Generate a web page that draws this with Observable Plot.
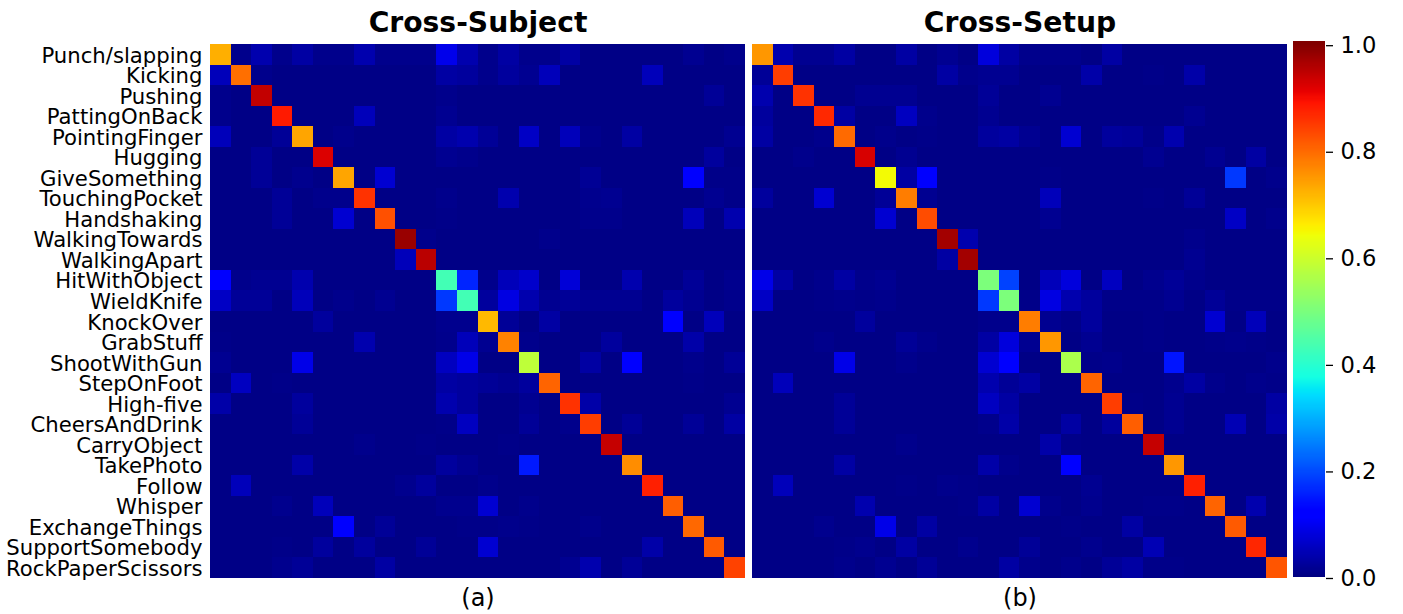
<!DOCTYPE html>
<html>
<head>
<meta charset="utf-8">
<style>
  html, body { margin: 0; padding: 0; background: #fff; }
  #page { position: relative; width: 1403px; height: 614px; overflow: hidden; }
  #page svg { position: absolute; top: 0; }
</style>
<script src="https://cdn.jsdelivr.net/npm/d3@7"></script>
<script src="https://cdn.jsdelivr.net/npm/@observablehq/plot@0.6"></script>
</head>
<body>
<div id="page"></div>
<script>
const actions = ["Punch/slapping","Kicking","Pushing","PattingOnBack","PointingFinger","Hugging","GiveSomething","TouchingPocket","Handshaking","WalkingTowards","WalkingApart","HitWithObject","WieldKnife","KnockOver","GrabStuff","ShootWithGun","StepOnFoot","High-five","CheersAndDrink","CarryObject","TakePhoto","Follow","Whisper","ExchangeThings","SupportSomebody","RockPaperScissors"];
const panels = ["Cross-Subject","Cross-Setup"];
const captions = ["(a)","(b)"];
const colorTicks = [0,0.2,0.4,0.6,0.8,1.0];
const colorMax = 1.006;

// Confusion matrices, values in thousandths.
const crossSubject = [
[725,10,40,10,30,10,10,40,10,10,10,93,40,10,30,10,10,30,5,5,5,5,5,15,5,10],
[50,793,10,5,5,5,5,5,5,5,5,30,25,10,25,15,50,5,5,5,5,50,5,5,5,5],
[10,5,943,5,5,5,5,5,5,5,5,10,5,5,5,5,5,5,5,5,5,5,5,5,20,5],
[10,5,5,883,5,5,5,50,5,5,5,15,5,5,5,5,5,5,5,5,5,5,5,5,5,5],
[50,5,5,20,735,5,10,5,5,5,5,30,40,20,5,60,5,50,10,5,30,5,5,5,5,15],
[5,5,20,5,5,920,5,5,5,5,5,15,10,5,5,5,5,5,5,5,5,5,5,5,25,5],
[5,5,20,5,12,5,735,5,70,5,5,5,5,5,5,5,5,5,18,5,5,5,5,115,8,8],
[5,5,5,20,5,10,10,857,5,5,5,10,5,5,40,5,5,5,12,15,5,5,5,5,15,8],
[5,5,5,20,5,5,70,5,825,5,5,8,5,5,5,5,5,5,10,10,5,5,5,50,5,40],
[5,5,5,5,5,5,5,5,5,978,10,5,5,5,5,5,10,5,5,5,5,5,5,5,5,5],
[5,5,5,5,5,5,5,5,5,50,950,5,5,5,5,5,5,5,5,5,5,5,5,5,5,5],
[110,10,15,15,40,5,5,5,5,5,5,430,160,10,50,65,5,75,5,5,40,5,5,20,5,12],
[60,20,20,5,50,5,10,5,15,5,5,180,430,25,85,40,15,20,15,15,15,5,25,15,5,10],
[5,5,5,5,5,25,5,5,5,5,5,12,12,714,20,5,30,5,5,5,5,5,115,5,50,5],
[8,5,5,5,5,5,5,40,5,5,5,10,50,15,772,10,5,5,5,25,5,5,5,35,5,5],
[15,5,5,5,90,5,5,5,5,5,5,55,90,5,5,580,5,5,30,5,120,5,5,10,5,20],
[5,55,5,8,5,5,5,5,5,5,5,30,25,20,15,25,804,5,5,5,5,5,5,8,5,5],
[35,5,5,5,25,5,5,5,5,5,5,40,25,5,5,15,5,857,35,5,5,5,5,5,5,15],
[5,5,5,5,20,5,5,5,5,5,5,8,55,5,5,20,5,10,846,5,20,5,5,20,5,30],
[5,5,5,5,5,5,5,10,5,5,8,5,5,5,8,5,5,5,5,940,5,5,5,5,5,5],
[5,5,5,5,35,5,5,5,5,5,5,25,15,5,5,150,5,5,5,5,761,5,5,5,5,5],
[5,50,5,5,5,5,5,5,5,12,25,5,5,10,5,5,5,5,5,5,5,877,5,5,5,5],
[5,5,5,12,5,50,5,5,5,5,5,12,12,70,5,10,5,5,5,5,5,5,810,5,5,5],
[5,5,5,5,5,5,115,5,20,5,5,5,8,8,10,8,5,5,10,5,5,5,5,800,5,5],
[5,5,5,8,5,25,5,25,5,5,20,5,5,70,5,5,5,5,5,5,5,35,5,5,815,5],
[5,5,5,12,20,5,5,5,30,5,5,5,5,5,5,5,5,15,40,5,20,5,5,5,5,840]
];
const crossSetup = [
[750,40,15,15,30,5,5,30,5,15,5,80,30,10,10,10,5,30,5,5,5,5,5,5,5,5],
[20,846,5,5,5,5,5,5,5,30,10,15,15,5,5,5,35,5,5,8,5,35,5,5,5,5],
[40,5,857,5,5,15,15,15,5,5,5,20,5,5,15,5,5,5,5,5,5,5,5,5,5,5],
[25,5,5,868,30,5,5,55,10,5,5,15,5,5,5,5,5,5,5,5,5,15,5,5,5,5],
[30,5,5,10,798,5,10,5,8,5,5,25,30,15,5,70,5,25,22,8,40,5,5,5,5,5],
[5,5,10,5,5,925,5,15,5,5,5,5,5,5,5,5,5,5,5,15,5,5,15,5,30,5],
[5,5,5,5,5,5,645,30,115,5,5,5,5,5,8,5,5,5,5,5,5,5,5,180,5,10],
[25,5,5,70,5,5,20,778,15,5,5,5,5,5,50,5,5,5,5,8,5,20,5,5,5,5],
[5,5,5,5,5,5,70,5,830,5,5,5,5,5,15,5,5,5,5,5,5,5,5,60,5,10],
[5,5,5,5,5,5,5,5,5,970,40,5,5,5,5,5,5,5,5,5,5,10,5,5,5,5],
[5,5,5,5,5,5,5,5,5,30,970,5,5,5,5,5,5,5,5,5,5,15,5,5,5,5],
[90,30,5,10,30,10,15,5,5,5,5,500,190,5,50,80,5,55,5,12,20,10,5,5,5,5],
[60,5,5,8,10,8,10,5,5,5,5,180,500,8,85,40,25,8,8,8,15,5,20,8,8,8],
[5,5,5,5,5,25,5,5,5,5,5,10,10,778,15,8,25,5,5,8,5,5,70,5,50,5],
[5,5,5,10,5,5,5,20,10,5,5,30,80,15,750,5,15,5,5,8,5,5,8,10,8,5],
[5,5,5,5,90,5,5,10,5,5,5,70,115,5,5,557,8,10,5,5,145,5,5,5,5,10],
[5,50,5,5,5,5,5,5,5,5,5,40,20,30,5,5,804,5,5,5,12,30,10,5,10,8],
[5,5,5,5,20,5,5,5,5,5,5,55,30,5,5,5,5,846,8,5,15,5,5,5,5,30],
[5,5,5,5,20,5,5,5,5,5,5,10,35,5,5,30,5,25,810,5,15,5,5,45,5,35],
[5,5,5,5,5,5,5,10,5,5,5,5,5,5,35,8,5,5,5,940,5,5,5,5,5,5],
[5,5,5,5,30,5,5,5,5,5,5,35,10,5,5,120,5,5,5,5,750,5,5,5,5,5],
[5,50,5,5,5,5,5,8,5,10,8,5,5,5,5,5,15,5,5,5,5,877,5,5,5,5],
[5,5,5,5,5,40,5,5,5,5,8,30,5,70,10,5,12,5,5,8,8,5,804,5,40,5],
[5,5,5,12,5,5,90,5,30,5,5,5,5,5,5,8,5,5,30,5,5,5,5,815,5,5],
[5,5,5,5,8,12,5,30,5,5,12,5,5,20,5,5,12,5,5,45,5,5,5,5,870,5],
[5,5,5,5,10,5,15,5,20,5,5,5,30,10,5,10,5,20,30,8,8,5,5,5,5,820]
];

// Matplotlib "jet" colormap breakpoints.
const jetStops = [0,0.11,0.125,0.34,0.35,0.375,0.64,0.65,0.66,0.89,0.91,1];
const jetColors = ["rgb(0,0,128)","rgb(0,0,255)","rgb(0,0,255)","rgb(0,219,255)","rgb(0,230,247)","rgb(21,255,226)","rgb(239,255,8)","rgb(247,246,0)","rgb(255,236,0)","rgb(255,19,0)","rgb(232,0,0)","rgb(128,0,0)"];

const font = "'DejaVu Sans', sans-serif";
const colorScale = {type: "linear", domain: jetStops, range: jetColors, clamp: true};

const cells = [];
[crossSubject, crossSetup].forEach((matrix, p) => {
  matrix.forEach((row, r) => row.forEach((v, c) => {
    cells.push({panel: panels[p], row: actions[r], col: actions[c], value: v / 1000});
  }));
});

const main = Plot.plot({
  width: 1287,
  height: 614,
  marginLeft: 210,
  marginRight: 0,
  marginTop: 44,
  marginBottom: 36,
  style: {fontFamily: font, background: "transparent", color: "#000"},
  x: {domain: actions, axis: null, padding: 0, round: false},
  y: {domain: actions, padding: 0, round: false, label: null},
  fx: {domain: panels, padding: 0.0129, round: false, label: null},
  color: colorScale,
  marks: [
    Plot.cell(cells, {fx: "panel", x: "col", y: "row", fill: "value", shapeRendering: "crispEdges"}),
    Plot.axisY({anchor: "left", tickSize: 0, tickPadding: 8, fontSize: 21.2, dy: 1, label: null}),
    Plot.axisFx({anchor: "top", tickSize: 0, tickPadding: 13, fontSize: 28.2, fontWeight: "bold", label: null}),
    Plot.axisFx({anchor: "bottom", tickSize: 0, tickPadding: 10, fontSize: 24, label: null,
      tickFormat: d => captions[panels.indexOf(d)]})
  ]
});
main.style.left = "0px";

const levelStep = 0.002;
const levels = d3.range(0, colorMax, levelStep);
const colorbar = Plot.plot({
  width: 110,
  height: 614,
  marginLeft: 0,
  marginRight: 78,
  marginTop: 41,
  marginBottom: 37,
  style: {fontFamily: font, background: "transparent", color: "#000"},
  x: {domain: [0, 1], axis: null},
  y: {domain: [0, colorMax], label: null},
  color: colorScale,
  marks: [
    Plot.rect(levels, {x1: 0, x2: 1, y1: d => d, y2: d => Math.min(d + levelStep, colorMax), fill: d => d, shapeRendering: "crispEdges"}),
    Plot.axisY({anchor: "right", ticks: colorTicks, tickFormat: d3.format(".1f"), tickSize: 7, tickPadding: 8, fontSize: 22.6, strokeWidth: 1.3, dy: 1, label: null}),
  ]
});
colorbar.style.left = "1293px";

const page = document.getElementById("page");
page.append(main, colorbar);
</script>
</body>
</html>
